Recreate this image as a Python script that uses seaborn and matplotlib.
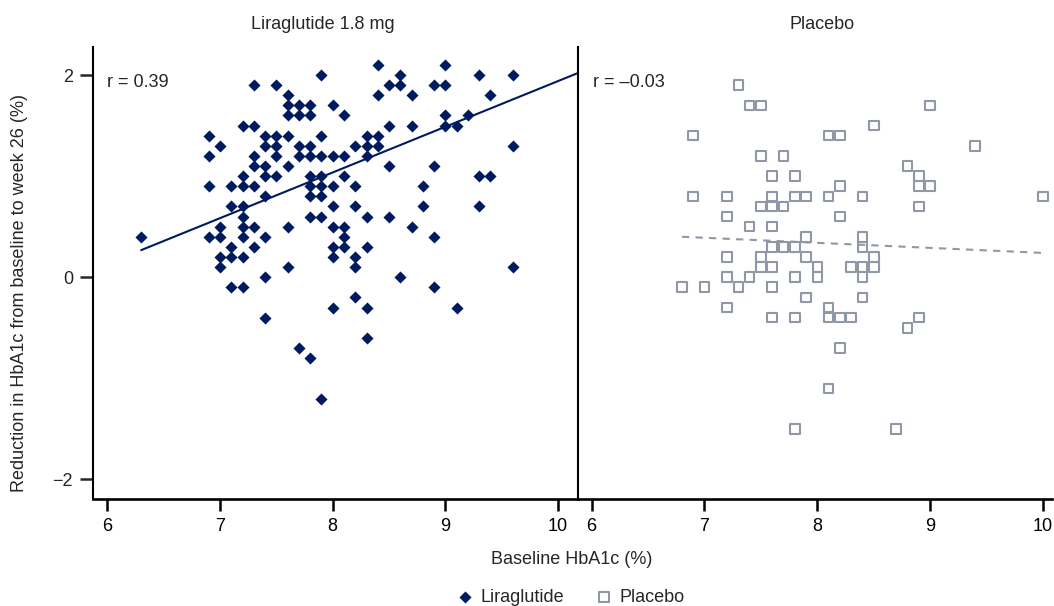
import numpy as np
import pandas as pd
import matplotlib
matplotlib.use('Agg')
import matplotlib.pyplot as plt
import seaborn as sns

# Liraglutide 1.8 mg arm: baseline HbA1c (%) vs reduction at week 26 (%), one line per y level
lira_baseline = [
    8.4, 9.0,
    7.9, 8.6, 9.3, 9.6,
    7.3, 7.5, 8.5, 8.6, 8.9, 9.0,
    7.6, 8.4, 8.7, 9.4,
    7.6, 7.7, 7.8, 8.0,
    7.6, 7.7, 7.8, 8.1, 9.0, 9.2,
    7.2, 7.3, 8.5, 8.7, 9.0, 9.1,
    6.9, 7.4, 7.5, 7.6, 7.9, 8.3, 8.4,
    7.0, 7.4, 7.5, 7.7, 7.8, 8.2, 8.3, 8.4, 9.6,
    6.9, 7.3, 7.5, 7.7, 7.8, 7.9, 8.0, 8.1, 8.3,
    7.3, 7.4, 7.6, 8.5, 8.9,
    7.2, 7.4, 7.5, 7.8, 7.9, 8.1, 9.3, 9.4,
    6.9, 7.1, 7.2, 7.3, 7.8, 7.9, 8.0, 8.2, 8.8,
    7.4, 7.8, 7.9,
    7.1, 7.2, 8.0, 8.2, 8.8, 9.3,
    7.2, 7.8, 7.9, 8.3, 8.5,
    7.0, 7.2, 7.3, 7.6, 8.0, 8.1, 8.7,
    6.3, 6.9, 7.0, 7.2, 7.4, 8.1, 8.9,
    7.1, 7.3, 8.0, 8.1, 8.3,
    7.0, 7.1, 7.2, 8.0, 8.2,
    7.0, 7.6, 8.2, 9.6,
    7.4, 8.6,
    7.1, 7.2, 8.9,
    8.2,
    8.0, 8.3, 9.1,
    7.4,
    8.3,
    7.7,
    7.8,
    7.9,
]
lira_reduction = (
    [2.1] * 2 + [2.0] * 4 + [1.9] * 6 + [1.8] * 4 + [1.7] * 4 + [1.6] * 6
    + [1.5] * 6 + [1.4] * 7 + [1.3] * 9 + [1.2] * 9 + [1.1] * 5 + [1.0] * 8
    + [0.9] * 9 + [0.8] * 3 + [0.7] * 6 + [0.6] * 5 + [0.5] * 7 + [0.4] * 7
    + [0.3] * 5 + [0.2] * 5 + [0.1] * 4 + [0.0] * 2 + [-0.1] * 3 + [-0.2] * 1
    + [-0.3] * 3 + [-0.4] * 1 + [-0.6] * 1 + [-0.7] * 1 + [-0.8] * 1 + [-1.2] * 1
)

# Placebo arm
plac_baseline = [
    7.3,
    7.4, 7.5, 9.0,
    8.5,
    6.9, 8.1, 8.2,
    9.4,
    7.5, 7.7,
    8.8,
    7.6, 7.8, 8.9,
    8.2, 8.9, 9.0,
    6.9, 7.2, 7.6, 7.8, 7.9, 8.1, 8.4, 10.0,
    7.5, 7.6, 7.7, 8.9,
    7.2, 8.2,
    7.4, 7.6,
    7.9, 8.4,
    7.6, 7.7, 7.8, 8.4,
    7.2, 7.5, 7.9, 8.5,
    7.5, 7.6, 8.0, 8.3, 8.4, 8.5,
    7.2, 7.4, 7.8, 8.0, 8.4,
    6.8, 7.0, 7.3, 7.6,
    7.9, 8.4,
    7.2, 8.1,
    7.6, 7.8, 8.1, 8.2, 8.3, 8.9,
    8.8,
    8.2,
    8.1,
    7.8, 8.7,
]
plac_reduction = (
    [1.9] * 1 + [1.7] * 3 + [1.5] * 1 + [1.4] * 3 + [1.3] * 1 + [1.2] * 2
    + [1.1] * 1 + [1.0] * 3 + [0.9] * 3 + [0.8] * 8 + [0.7] * 4 + [0.6] * 2
    + [0.5] * 2 + [0.4] * 2 + [0.3] * 4 + [0.2] * 4 + [0.1] * 6 + [0.0] * 5
    + [-0.1] * 4 + [-0.2] * 2 + [-0.3] * 2 + [-0.4] * 6 + [-0.5] * 1
    + [-0.7] * 1 + [-1.1] * 1 + [-1.5] * 2
)

# fitted lines as printed in the figure (slope, intercept)
lira_fit = [0.452, -2.58]
plac_fit = [-0.05, 0.74]

panel_titles = ['Liraglutide 1.8 mg', 'Placebo']
r_labels = ['r = 0.39', 'r = \u20130.03']
x_ticks = [6, 7, 8, 9, 10]
y_ticks = [-2, 0, 2]

navy = '#001a60'
grey = '#9098a8'

lira = pd.DataFrame({'baseline': lira_baseline, 'reduction': lira_reduction})
plac = pd.DataFrame({'baseline': plac_baseline, 'reduction': plac_reduction})

sns.set_style('ticks')
plt.rcParams['font.family'] = ['Liberation Sans', 'DejaVu Sans']
plt.rcParams['font.size'] = 13

W, H = 1054, 606
fig = plt.figure(figsize=(W / 100, H / 100), dpi=100)
ax1 = fig.add_axes([92.7 / W, 1 - 499.3 / H, (578 - 92.7) / W, (499.3 - 47) / H])
ax2 = fig.add_axes([578 / W, 1 - 499.3 / H, (1052 - 578) / W, (499.3 - 47) / H])

ax1.set_xlim(5.870, 10.177)
ax2.set_xlim(5.879, 10.08)

# Points
sns.scatterplot(data=lira, x='baseline', y='reduction', ax=ax1, marker='D', s=38,
                color=navy, linewidth=0, label='Liraglutide', zorder=3)
sns.scatterplot(data=plac, x='baseline', y='reduction', ax=ax2, marker='s', s=48,
                facecolor='none', edgecolor=grey, linewidth=1.5, label='Placebo', zorder=3)

# Regression lines: liraglutide line runs to the right edge of its panel
xs1 = np.array([lira['baseline'].min(), ax1.get_xlim()[1]])
ax1.plot(xs1, lira_fit[0] * xs1 + lira_fit[1], color=navy, lw=1.5, zorder=2)
xs2 = np.array([plac['baseline'].min(), plac['baseline'].max()])
ax2.plot(xs2, plac_fit[0] * xs2 + plac_fit[1], color=grey, lw=1.5, ls=(0, (3.5, 3)), zorder=2)

for ax in (ax1, ax2):
    ax.set_ylim(-2.197, 2.277)
    ax.set_xticks(x_ticks)
    ax.set_yticks(y_ticks)
    ax.set_xlabel('')
    ax.set_ylabel('')
    ax.spines['top'].set_visible(False)
    ax.spines['right'].set_visible(False)
    ax.spines['bottom'].set_linewidth(1.9)
    ax.spines['left'].set_linewidth(1.5)
    ax.spines['left'].set_color('black')
    ax.spines['bottom'].set_color('black')
    ax.tick_params(axis='x', direction='out', length=8.6, width=1.8, pad=4.8,
                   labelsize=13, colors='black')
    ax.legend_.remove()

ax1.tick_params(axis='y', direction='out', length=9.4, width=1.8, pad=4.8, labelsize=13)
ax2.tick_params(axis='y', length=0, labelleft=False)

# r values
ax1.text(0.029, 0.9226, r_labels[0], transform=ax1.transAxes, va='center', fontsize=13)
ax2.text(0.031, 0.9226, r_labels[1], transform=ax2.transAxes, va='center', fontsize=13)

# Panel titles, axis labels
fig.text(323 / W, 1 - 29 / H, panel_titles[0], ha='center', va='baseline', fontsize=13)
fig.text(822 / W, 1 - 29 / H, panel_titles[1], ha='center', va='baseline', fontsize=13)
fig.text(572 / W, 1 - 559 / H, 'Baseline HbA1c (%)', ha='center', va='center', fontsize=13)
fig.text(20 / W, 1 - 293 / H, 'Reduction in HbA1c from baseline to week 26 (%)',
         rotation=90, ha='center', va='center', fontsize=13)

# Legend below
h1, l1 = ax1.get_legend_handles_labels()
h2, l2 = ax2.get_legend_handles_labels()
fig.legend(h1 + h2, l1 + l2, loc='center', bbox_to_anchor=(571 / W, 1 - 597 / H),
           ncol=2, frameon=False, fontsize=13, handlelength=0.8, handletextpad=0.45,
           columnspacing=1.8, borderpad=0)

fig.savefig('out.png', dpi=100)
